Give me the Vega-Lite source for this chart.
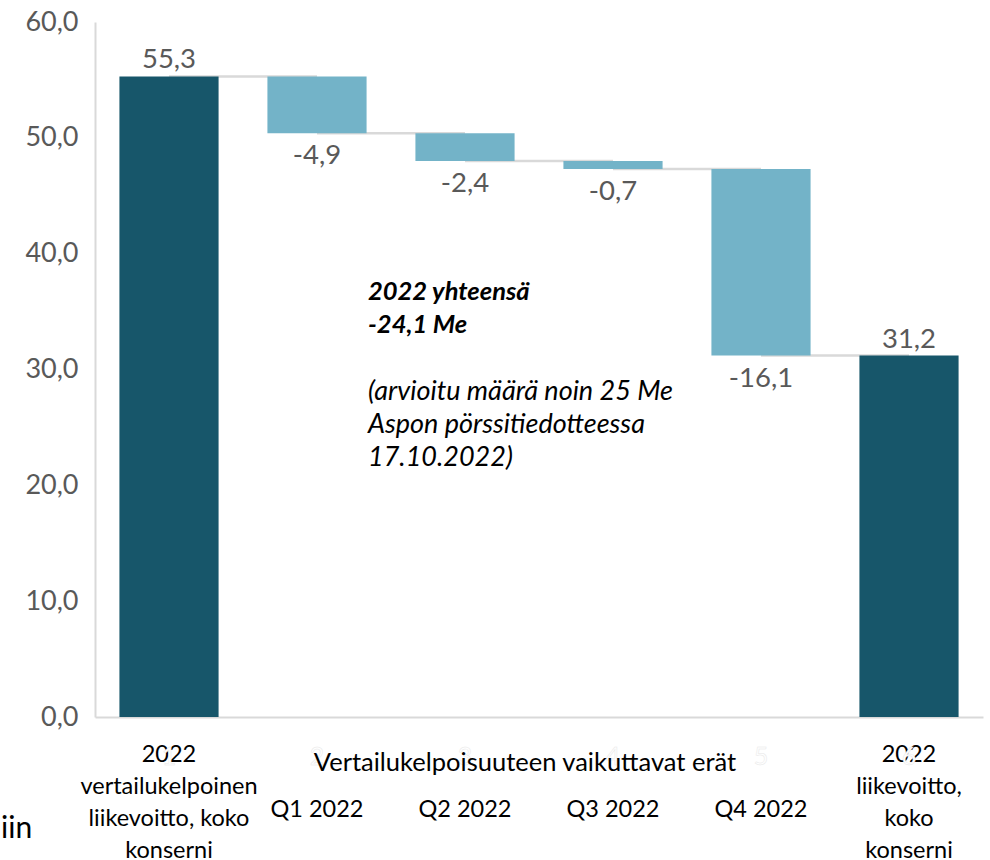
{
  "$schema": "https://vega.github.io/schema/vega-lite/v6.json",
  "width": 888,
  "height": 695,
  "autosize": "none",
  "padding": {"left": 95, "top": 22, "right": 7, "bottom": 143},
  "background": "white",
  "config": {
    "font": "Lato",
    "view": {"stroke": null},
    "locale": {"number": {"decimal": ",", "thousands": " ", "grouping": [3], "currency": ["", " €"], "minus": "-"}}
  },
  "datasets": {
    "steps": [
      {"cat": "2022|vertailukelpoinen|liikevoitto, koko|konserni", "start": 0, "end": 55.3, "value": 55.3, "kind": "total", "next": "Q1 2022", "n": "1"},
      {"cat": "Q1 2022", "start": 55.3, "end": 50.4, "value": -4.9, "kind": "change", "next": "Q2 2022", "n": "2"},
      {"cat": "Q2 2022", "start": 50.4, "end": 48.0, "value": -2.4, "kind": "change", "next": "Q3 2022", "n": "3"},
      {"cat": "Q3 2022", "start": 48.0, "end": 47.3, "value": -0.7, "kind": "change", "next": "Q4 2022", "n": "4"},
      {"cat": "Q4 2022", "start": 47.3, "end": 31.2, "value": -16.1, "kind": "change", "next": "2022|liikevoitto,|koko|konserni", "n": "5"},
      {"cat": "2022|liikevoitto,|koko|konserni", "start": 0, "end": 31.2, "value": 31.2, "kind": "total", "next": null, "n": "6"}
    ]
  },
  "data": {"name": "steps"},
  "layer": [
    {
      "transform": [{"filter": "datum.next != null"}],
      "mark": {"type": "rule", "color": "#d9d9d9", "strokeWidth": 2.5},
      "encoding": {
        "x": {"field": "cat", "type": "nominal", "sort": null},
        "x2": {"field": "next"},
        "y": {"field": "end", "type": "quantitative"}
      }
    },
    {
      "mark": {"type": "bar"},
      "encoding": {
        "x": {
          "field": "cat", "type": "nominal", "sort": null,
          "scale": {
            "domain": ["2022|vertailukelpoinen|liikevoitto, koko|konserni", "Q1 2022", "Q2 2022", "Q3 2022", "Q4 2022", "2022|liikevoitto,|koko|konserni"],
            "paddingInner": 0.33, "paddingOuter": 0.165
          },
          "axis": {
            "title": null,
            "labelExpr": "split(datum.value, '|')",
            "labelAngle": 0,
            "labelAlign": "center",
            "labelFontSize": 23.5,
            "labelColor": "#000000",
            "labelLineHeight": 32,
            "labelBaseline": "top",
            "labelPadding": {"condition": {"test": "length(split(datum.value, '|')) == 1", "value": 80}, "value": 25},
            "labelLimit": 400,
            "labelOverlap": false,
            "ticks": false,
            "tickSize": 0,
            "domainColor": "#d9d9d9",
            "domainWidth": 2
          }
        },
        "y": {
          "field": "start", "type": "quantitative",
          "scale": {"domain": [0, 60], "nice": false},
          "axis": {
            "title": null,
            "values": [0, 10, 20, 30, 40, 50, 60],
            "format": ".1f",
            "grid": false,
            "ticks": false,
            "tickSize": 0,
            "labelFontSize": 27,
            "labelColor": "#595959",
            "labelPadding": 17,
            "domainColor": "#d9d9d9",
            "domainWidth": 2
          }
        },
        "y2": {"field": "end"},
        "color": {
          "field": "kind", "type": "nominal",
          "scale": {"domain": ["total", "change"], "range": ["#17566a", "#73b3c8"]},
          "legend": null
        }
      }
    },
    {
      "transform": [{"filter": "datum.kind == 'total'"}],
      "mark": {"type": "text", "baseline": "bottom", "dy": -2, "fontSize": 27.5, "color": "#595959"},
      "encoding": {
        "x": {"field": "cat", "type": "nominal", "sort": null},
        "y": {"field": "end", "type": "quantitative"},
        "text": {"field": "value", "type": "quantitative", "format": ".1f"}
      }
    },
    {
      "transform": [{"filter": "datum.kind == 'change'"}],
      "mark": {"type": "text", "baseline": "top", "dy": 9, "fontSize": 27.5, "color": "#595959"},
      "encoding": {
        "x": {"field": "cat", "type": "nominal", "sort": null},
        "y": {"field": "end", "type": "quantitative"},
        "text": {"field": "value", "type": "quantitative", "format": ".1f"}
      }
    },
    {
      "mark": {"type": "text", "fontSize": 25, "color": "#ffffff", "stroke": "#e8e8e8", "strokeWidth": 0.5, "baseline": "middle"},
      "encoding": {
        "x": {"field": "cat", "type": "nominal", "sort": null},
        "y": {"datum": -3.45},
        "text": {"field": "n"}
      }
    },
    {
      "data": {"values": [{"cat": "Q2 2022", "label": "Vertailukelpoisuuteen vaikuttavat erät"}]},
      "mark": {"type": "text", "fontSize": 25.5, "color": "#000000", "align": "center", "baseline": "alphabetic", "dx": 60},
      "encoding": {
        "x": {"field": "cat", "type": "nominal", "sort": null},
        "y": {"datum": -4.66},
        "text": {"field": "label"}
      }
    },
    {
      "data": {"values": [{"cat": "Q1 2022"}]},
      "mark": {"type": "text", "fontSize": 25.5, "fontWeight": "bold", "fontStyle": "italic", "color": "#000000", "align": "left", "baseline": "alphabetic", "dx": 51, "lineHeight": 33, "text": ["2022 yhteensä", "-24,1 Me"]},
      "encoding": {
        "x": {"field": "cat", "type": "nominal", "sort": null},
        "y": {"datum": 36.0}
      }
    },
    {
      "data": {"values": [{"cat": "Q1 2022"}]},
      "mark": {"type": "text", "fontSize": 27, "fontStyle": "italic", "color": "#000000", "align": "left", "baseline": "alphabetic", "dx": 51, "lineHeight": 33, "text": ["(arvioitu määrä noin 25 Me", "Aspon pörssitiedotteessa", "17.10.2022)"]},
      "encoding": {
        "x": {"field": "cat", "type": "nominal", "sort": null},
        "y": {"datum": 27.37}
      }
    },
    {
      "data": {"values": [{"cat": "2022|vertailukelpoinen|liikevoitto, koko|konserni", "label": "iin"}]},
      "mark": {"type": "text", "fontSize": 30, "color": "#000000", "align": "left", "baseline": "alphabetic", "dx": -168},
      "encoding": {
        "x": {"field": "cat", "type": "nominal", "sort": null},
        "y": {"datum": -10.45},
        "text": {"field": "label"}
      }
    }
  ]
}
